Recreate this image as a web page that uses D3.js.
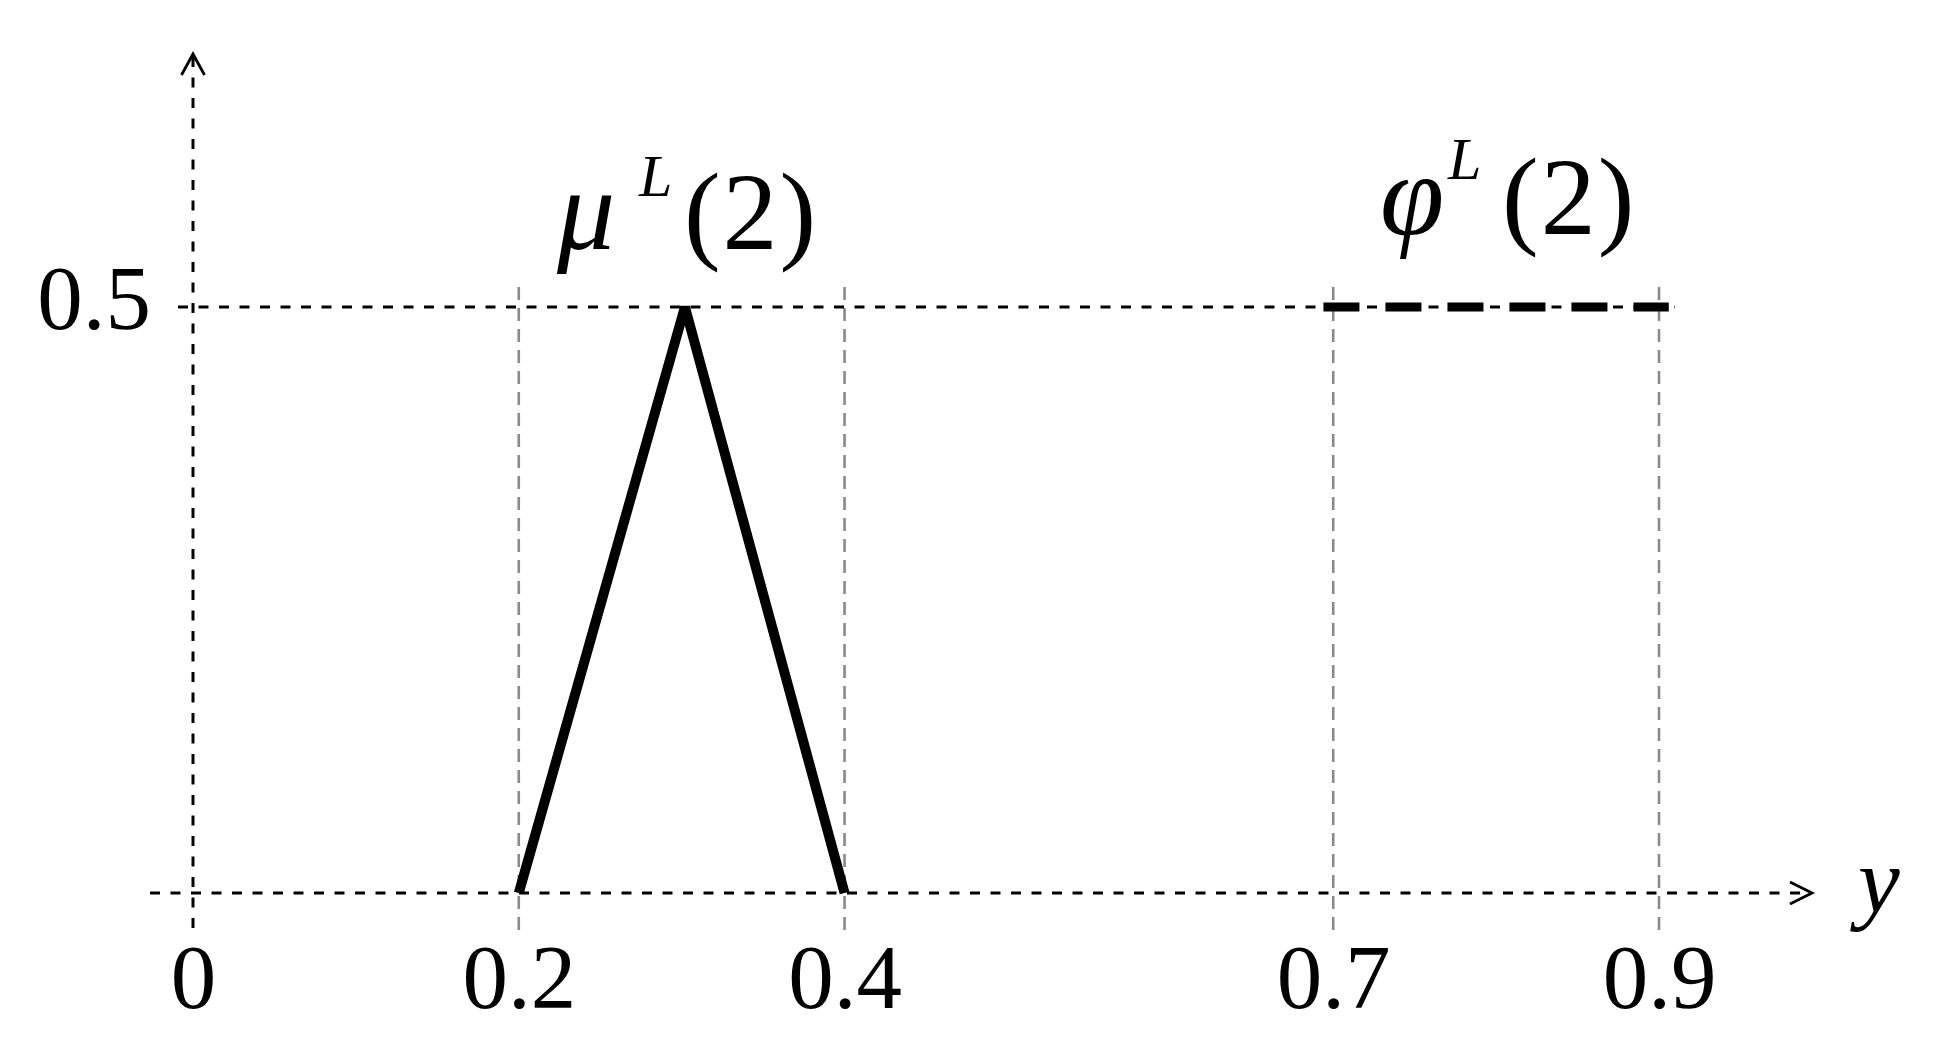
<!DOCTYPE html>
<meta charset="utf-8">
<head>
<script src="https://d3js.org/d3.v7.min.js"></script>
</head>
<style>
	body {
		margin: 0;
		background: #fff;
	}
	svg {
		display: block;
	}
	.thin {
		fill: none;
		stroke: #000;
		stroke-width: 3px;
		stroke-dasharray: 10 10.5;
	}
	.guide {
		fill: none;
		stroke: #8a8a8a;
		stroke-width: 2.6px;
		stroke-dasharray: 13 8;
	}
	.arrow {
		fill: none;
		stroke: #000;
		stroke-width: 2.8px;
	}
	#muPath {
		fill: none;
		stroke: #000;
		stroke-width: 10px;
		stroke-linejoin: bevel;
	}
	#phiPath {
		fill: none;
		stroke: #000;
		stroke-width: 9px;
		stroke-dasharray: 36 26;
	}
</style>
<body>
<svg id="chart" width="1942" height="1048"></svg>
<script>
	// values
	var xTicks = [0, 0.2, 0.4, 0.7, 0.9];
	var xTickLabels = ["0", "0.2", "0.4", "0.7", "0.9"];
	var yTicks = [0.5];
	var yTickLabels = ["0.5"];
	var guideTicks = [0.2, 0.4, 0.7, 0.9];

	// mu^L(2): triangle
	var muX = [0.2, 0.302, 0.4];
	var muY = [0, 0.5, 0];
	// phi^L(2): flat dashed segment
	var phiX = [0.694, 0.906];
	var phiY = [0.5, 0.5];

	var serif = '"Liberation Serif", "Times New Roman", serif';

	var svg = d3.select("#chart");
	svg.append("rect").attr("width", 1942).attr("height", 1048).attr("fill", "#fff");

	var x = d3.scaleLinear().domain([0, 0.9]).range([193, 1659]);
	var y = d3.scaleLinear().domain([0, 0.5]).range([893, 307]);

	var line = d3.line();

	// grey vertical guides
	svg.selectAll(".guide")
		.data(guideTicks)
		.enter().append("path")
		.attr("class", "guide")
		.attr("d", function(d) { return line([[x(d), 287], [x(d), 930]]); });

	// 0.5 level line
	svg.selectAll(".level")
		.data(yTicks)
		.enter().append("path")
		.attr("class", "thin level")
		.attr("d", function(d) { return line([[178, y(d)], [1675, y(d)]]); });

	// axes (dashed, with open arrow heads)
	svg.append("path").attr("class", "thin")
		.attr("d", line([[150, y(0)], [1810, y(0)]]));
	svg.append("path").attr("class", "thin")
		.attr("d", line([[x(0), 928], [x(0), 56]]));

	svg.append("path").attr("class", "arrow")
		.attr("d", line([[1790, y(0) - 11], [1812, y(0)], [1790, y(0) + 11]]));
	svg.append("path").attr("class", "arrow")
		.attr("d", line([[x(0) - 11.5, 75], [x(0), 54], [x(0) + 11.5, 75]]));

	// tick labels through d3 axes
	var xAxis = d3.axisBottom(x)
		.tickValues(xTicks)
		.tickSize(0)
		.tickFormat(function(d, i) { return xTickLabels[i]; });

	var gx = svg.append("g")
		.attr("transform", "translate(0," + y(0) + ")")
		.call(xAxis);
	gx.select(".domain").remove();
	gx.attr("font-family", serif).attr("font-size", 91);
	gx.selectAll("text").attr("dy", null).attr("y", 115).attr("fill", "#000");

	var yAxis = d3.axisLeft(y)
		.tickValues(yTicks)
		.tickSize(0)
		.tickPadding(42)
		.tickFormat(function(d, i) { return yTickLabels[i]; });

	var gy = svg.append("g")
		.attr("transform", "translate(" + x(0) + ",0)")
		.call(yAxis);
	gy.select(".domain").remove();
	gy.attr("font-family", serif).attr("font-size", 91);
	gy.selectAll("text").attr("dy", "0.235em").attr("fill", "#000");

	// axis name
	svg.append("text")
		.attr("x", 1858)
		.attr("y", 912)
		.attr("font-family", serif)
		.attr("font-size", 94)
		.attr("font-style", "italic")
		.text("y");

	// curves
	var curve = d3.line()
		.x(function(d) { return x(d[0]); })
		.y(function(d) { return y(d[1]); });

	svg.append("path")
		.attr("id", "muPath")
		.attr("d", curve(d3.zip(muX, muY)));

	svg.append("path")
		.attr("id", "phiPath")
		.attr("d", curve(d3.zip(phiX, phiY)));

	// labels mu^L(2) and phi^L(2): glyph, superscript, argument
	function addLabel(left, base, main, o) {
		var t = svg.append("text")
			.attr("font-family", serif)
			.attr("fill", "#000");
		t.append("tspan")
			.attr("x", left).attr("y", base)
			.attr("font-style", "italic")
			.attr("font-size", o.mainSize)
			.text(main);
		t.append("tspan")
			.attr("x", left + o.supDx).attr("y", base - o.supRise)
			.attr("font-style", "italic")
			.attr("font-size", 60)
			.text("L");
		t.append("tspan")
			.attr("x", left + o.tailDx).attr("y", base)
			.attr("font-size", 110)
			.attr("letter-spacing", 2)
			.text("(2)");
	}

	addLabel(x(muX[1]) - 128, 249, "\u03bc", {mainSize: 116, supDx: 82, supRise: 53, tailDx: 127});
	addLabel(x(0.8) - 116, 234, "\u03c6", {mainSize: 116, supDx: 68, supRise: 55, tailDx: 122});
</script>
</body>
